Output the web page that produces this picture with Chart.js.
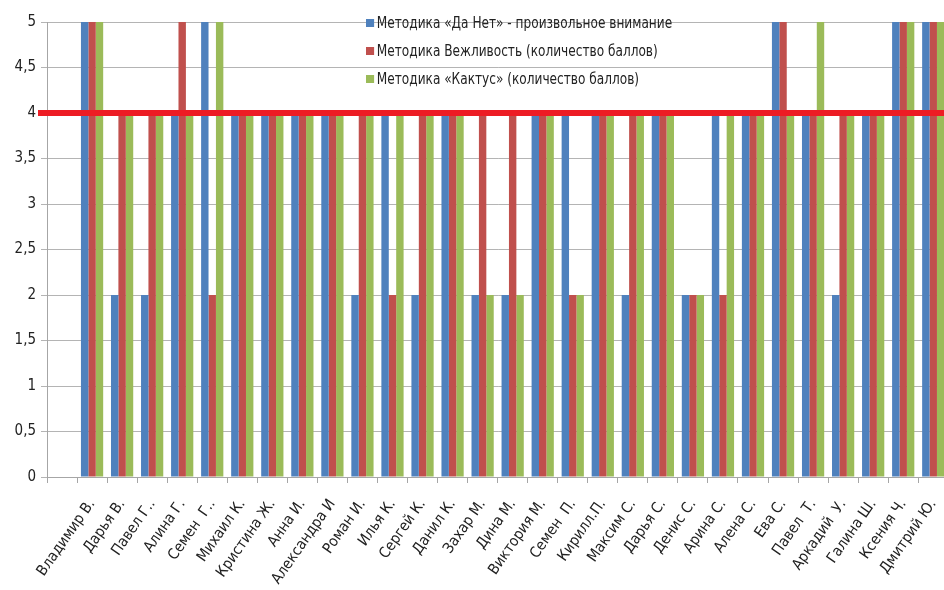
<!DOCTYPE html>
<html>
<head>
<meta charset="utf-8">
<script src="https://cdn.jsdelivr.net/npm/chart.js"></script>
<style>
  html, body { margin: 0; padding: 0; background: #fff; overflow: hidden; }
  #wrap { position: relative; width: 961px; height: 590px; }
  #legend { position: absolute; left: 366px; top: 12px; font: 15px "Liberation Sans Narrow", "DejaVu Sans Condensed", "Open Sans", sans-serif; color: #222; transform: scaleX(0.9); transform-origin: left top; }
  #legend .row { height: 28px; line-height: 22px; white-space: nowrap; }
  #legend .box { display: inline-block; width: 9px; height: 8px; margin-right: 3px; vertical-align: 1px; }
</style>
</head>
<body>
<div id="wrap">
  <canvas id="barChart"></canvas>
  <div id="legend"></div>
</div>
<script>
// Categories (first one has no label in the source)
const names = ['', 'Владимир В.', 'Дарья В.', 'Павел Г..', 'Алина Г.', 'Семен  Г..', 'Михаил К.',
  'Кристина Ж.', 'Анна И.', 'Александра И', 'Роман И.', 'Илья К.', 'Сергей К.', 'Данил К.',
  'Захар М.', 'Дина М.', 'Виктория М.', 'Семен  П.', 'Кирилл.П.', 'Максим С.', 'Дарья С.',
  'Денис С.', 'Арина С.', 'Алена С.', 'Ева С.', 'Павел  Т.', 'Аркадий  У.', 'Галина Ш.',
  'Ксения Ч.', 'Дмитрий Ю.'];

// Series values
const daNet     = [0, 5, 2, 2, 4, 5, 4, 4, 4, 4, 2, 4, 2, 4, 2, 2, 4, 4, 4, 2, 4, 2, 4, 4, 5, 4, 2, 4, 5, 5];
const vezhl     = [null, 5, 4, 4, 5, 2, 4, 4, 4, 4, 4, 2, 4, 4, 4, 4, 4, 2, 4, 4, 4, 2, 2, 4, 5, 4, 4, 4, 5, 5];
const kaktus    = [null, 5, 4, 4, 4, 5, 4, 4, 4, 4, 4, 4, 4, 4, 2, 2, 4, 2, 4, 4, 4, 2, 4, 4, 4, 5, 4, 4, 5, 5];

const seriesLabels = [
  'Методика «Да Нет» - произвольное внимание',
  'Методика Вежливость  (количество баллов)',
  'Методика «Кактус»  (количество баллов)'
];
const seriesColors = ['#4f81bd', '#c0504d', '#9bbb59'];

const thresholdValue = 4;

// thick red line across the chart at the threshold
const thresholdLine = {
    id: 'thresholdLine',
    afterDatasetsDraw(chart) {
        const ctx = chart.ctx;
        const area = chart.chartArea;
        const y = chart.scales.y.getPixelForValue(thresholdValue);
        ctx.save();
        ctx.strokeStyle = '#ed1c24';
        ctx.lineWidth = 6;
        ctx.beginPath();
        ctx.moveTo(area.left - 9, y);
        ctx.lineTo(area.right, y);
        ctx.stroke();
        ctx.restore();
    }
};

const tickFont = { family: '"Liberation Sans Narrow", "DejaVu Sans Condensed", "Open Sans", sans-serif', size: 15 };

new Chart(document.getElementById('barChart'), {
    type: 'bar',
    data: {
        labels: names,
        datasets: [daNet, vezhl, kaktus].map((vals, i) => ({
            label: seriesLabels[i],
            data: vals,
            backgroundColor: seriesColors[i],
            borderWidth: 0,
            categoryPercentage: 0.74,
            barPercentage: 1.0
        }))
    },
    options: {
        responsive: true,
        maintainAspectRatio: false,
        animation: false,
        layout: { padding: { top: 22, right: 0, bottom: 3, left: 0 } },
        plugins: {
            legend: { display: false },
            tooltip: { enabled: false }
        },
        scales: {
            x: {
                grid: { offset: true, drawOnChartArea: false, tickLength: 6, color: '#a6a6a6' },
                border: { color: '#a6a6a6' },
                ticks: { minRotation: 55, maxRotation: 55, autoSkip: false, padding: 13, color: '#222', font: tickFont },
                afterFit: scale => { scale.height = 110; }
            },
            y: {
                min: 0,
                max: 5,
                grid: { color: '#b4b4b4', tickLength: 6 },
                border: { color: '#a6a6a6' },
                ticks: {
                    stepSize: 0.5,
                    padding: 5,
                    color: '#222',
                    font: tickFont,
                    callback: v => String(v).replace('.', ',')
                },
                afterFit: scale => { scale.width = 47; }
            }
        }
    },
    plugins: [thresholdLine]
});

// legend stacked at the top of the plot
const legendEl = document.getElementById('legend');
seriesLabels.forEach((lbl, i) => {
    const row = document.createElement('div');
    row.className = 'row';
    row.innerHTML = '<span class="box" style="background:' + seriesColors[i] + '"></span>' + lbl;
    legendEl.appendChild(row);
});
</script>
</body>
</html>
